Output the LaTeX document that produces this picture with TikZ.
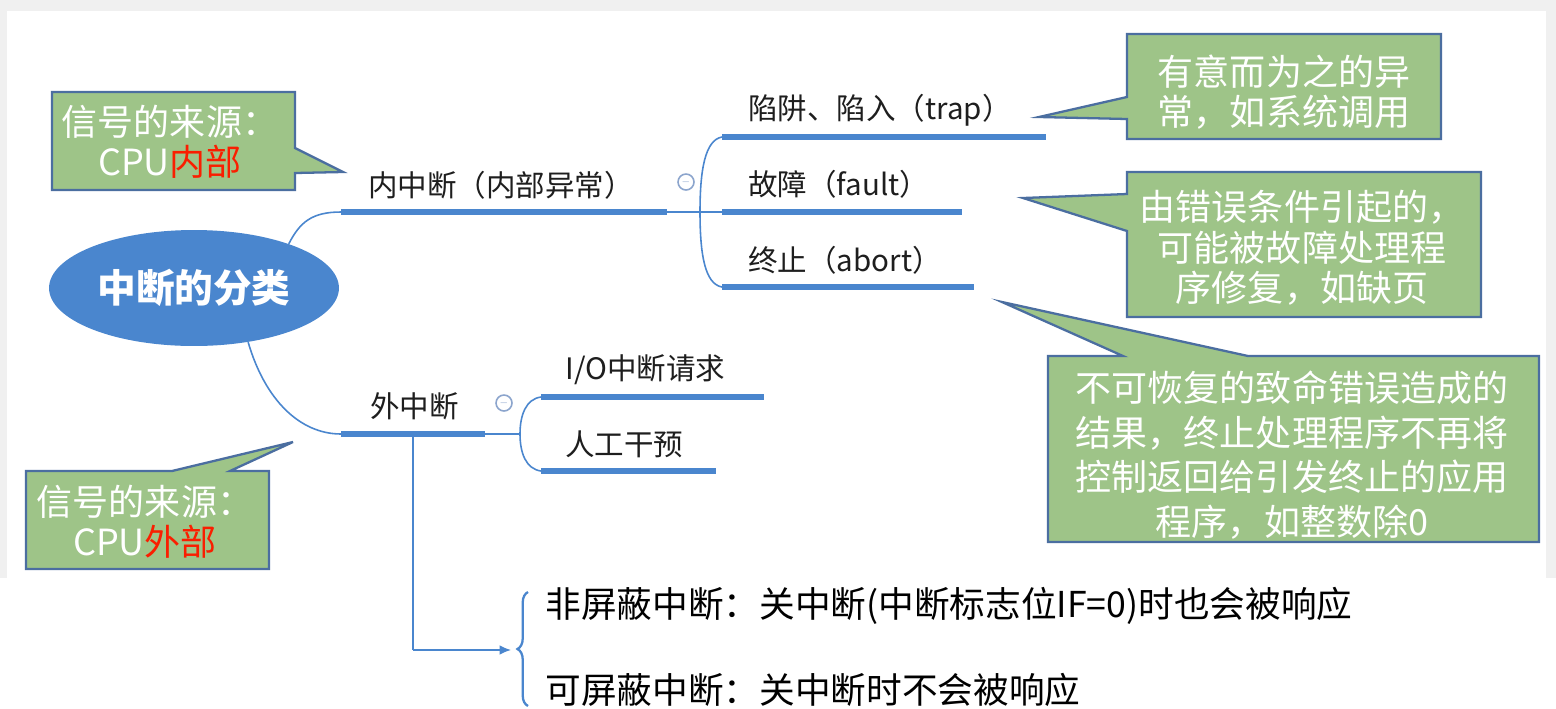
\documentclass[tikz,border=0pt]{standalone}
\usepackage{fontspec}
\setmainfont{Noto Sans CJK SC}
\usetikzlibrary{shapes.geometric,arrows.meta,decorations.pathreplacing}

\definecolor{mmblue}{RGB}{74,134,206}
\definecolor{mmtext}{RGB}{30,30,30}
\definecolor{boxgreen}{RGB}{158,196,136}
\definecolor{boxline}{RGB}{75,110,160}
\definecolor{foldgray}{RGB}{140,165,205}
\definecolor{bggray}{RGB}{240,240,240}
\definecolor{warnred}{RGB}{250,30,0}

\begin{document}
\begin{tikzpicture}[x=0.02cm,y=-0.02cm,
    root/.style={ellipse,fill=mmblue,text=white,minimum width=5.28cm,minimum height=2.32cm,
                 font=\fontsize{22}{26}\selectfont\bfseries},
    topic/.style={anchor=west,inner sep=0pt,text=mmtext,font=\fontsize{16.8}{19}\selectfont},
    bar/.style={mmblue,line width=3.4pt},
    link/.style={mmblue,line width=0.9pt},
    fold/.style={circle,draw=foldgray,fill=white,line width=0.9pt,minimum size=0.32cm,inner sep=0pt,
                 text=foldgray,font=\tiny},
    bubble/.style={draw=boxline,fill=boxgreen,line width=1.3pt},
    bubbletext/.style={text=white,align=center,inner sep=0pt,font=\fontsize{20.5}{23}\selectfont},
    note/.style={anchor=west,inner sep=0pt,text=black,font=\fontsize{20.3}{23}\selectfont}]

        % 背景
        \useasboundingbox (0,0) rectangle (1556,708);
        \fill[bggray] (0,0) rectangle (1556,708);
        \fill[white] (7,11) rectangle (1546,578);
        \fill[white] (0,578) rectangle (1556,708);

        % 中心主题
        \node[root] (root) at (194,288) {中断的分类};

        % 内中断分支
        \coordinate (neiL) at (341,212);
        \coordinate (neiR) at (667,212);
        \coordinate (neiJ) at (700,212);
        \node[topic] (nei) at (368,185) {内中断（内部异常）};
        \draw[link] (root.25) .. controls (300,222) and (312,212) .. (neiL);
        \draw[bar] (neiL) -- (neiR);
        \draw[link] (neiR) -- (neiJ);
        \node[fold] (foldnei) at (686,182) {$-$};

        \coordinate (trapL) at (722,137);
        \coordinate (trapR) at (1046,137);
        \coordinate (faultL) at (722,212);
        \coordinate (faultR) at (962,212);
        \coordinate (abortL) at (722,287);
        \coordinate (abortR) at (974,287);
        \draw[link] (trapL) .. controls (705,140) and (700,170) .. (neiJ)
                    .. controls (700,255) and (705,284) .. (abortL);
        \draw[link] (neiJ) -- (faultL);
        \draw[bar] (trapL) -- (trapR);
        \draw[bar] (faultL) -- (faultR);
        \draw[bar] (abortL) -- (abortR);
        \node[topic] (trap) at (748,110) {陷阱、陷入（trap）};
        \node[topic] (fault) at (748,184) {故障（fault）};
        \node[topic] (abort) at (748,260) {终止（abort）};

        % 外中断分支
        \coordinate (waiL) at (341,434);
        \coordinate (waiR) at (485,434);
        \coordinate (waiJ) at (520,434);
        \node[topic] (wai) at (370,406) {外中断};
        \draw[link] (root.-45) .. controls (265,400) and (300,434) .. (waiL);
        \draw[bar] (waiL) -- (waiR);
        \draw[link] (waiR) -- (waiJ);
        \node[fold] (foldwai) at (504,403) {$-$};

        \coordinate (ioL) at (541,397);
        \coordinate (ioR) at (764,397);
        \coordinate (manL) at (541,471);
        \coordinate (manR) at (716,471);
        \draw[link] (ioL) .. controls (526,399) and (520,415) .. (waiJ)
                    .. controls (520,453) and (526,469) .. (manL);
        \draw[bar] (ioL) -- (ioR);
        \draw[bar] (manL) -- (manR);
        \node[topic] (io) at (565,370) {I/O中断请求};
        \node[topic] (man) at (565,444) {人工干预};

        % 外中断的两种类型
        \coordinate (waiDrop) at (413,434);
        \coordinate (waiTurn) at (413,650);
        \coordinate (braceTip) at (511,650);
        \draw[link] (waiDrop) -- (waiTurn);
        \draw[link,-{Latex[length=6.5pt,width=5.5pt]}] (waiTurn) -- (braceTip);
        \draw[mmblue,line width=1.3pt,decorate,decoration={brace,amplitude=6pt}] (528,706) -- (528,592);
        \node[note] (fei) at (545,606) {非屏蔽中断：关中断(中断标志位IF=0)时也会被响应};
        \node[note] (ke) at (545,690) {可屏蔽中断：关中断时不会被响应};

        % 标注框
        \draw[bubble] (52,92) -- (295,92) -- (295,148) -- (343,172) -- (295,173)
                      -- (295,190) -- (52,190) -- cycle;
        \node[bubbletext] (srcin) at (170,142) {信号的来源：\\CPU\textcolor{warnred}{内部}};

        \draw[bubble] (26,471) -- (172,471) -- (293,442) -- (230,471) -- (269,471)
                      -- (269,569) -- (26,569) -- cycle;
        \node[bubbletext] (srcout) at (145,522) {信号的来源：\\CPU\textcolor{warnred}{外部}};

        \draw[bubble] (1127,34) -- (1441,34) -- (1441,139) -- (1127,139) -- (1127,119)
                      -- (1039,117) -- (1127,97) -- cycle;
        \node[bubbletext] (traptip) at (1284,92) {有意而为之的异\\常，如系统调用};

        \draw[bubble] (1127,172) -- (1481,172) -- (1481,317) -- (1127,317) -- (1127,231)
                      -- (1023,198) -- (1127,194) -- cycle;
        \node[bubbletext] (faulttip) at (1302,248) {由错误条件引起的，\\可能被故障处理程\\序修复，如缺页};

        \draw[bubble] (1048,356) -- (1123,356) -- (1002,302) -- (1248,356) -- (1539,356)
                      -- (1539,542) -- (1048,542) -- cycle;
        \node[bubbletext,font=\fontsize{20.5}{25.5}\selectfont] (aborttip) at (1292,455)
            {不可恢复的致命错误造成的\\结果，终止处理程序不再将\\控制返回给引发终止的应用\\程序，如整数除0};

\end{tikzpicture}
\end{document}
